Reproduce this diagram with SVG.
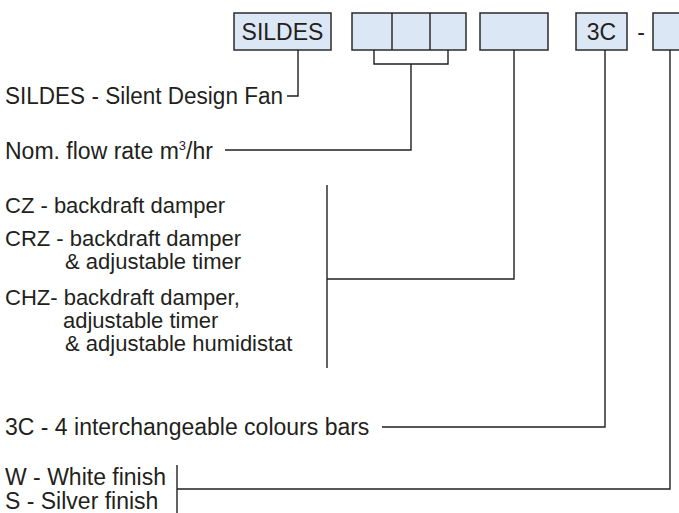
<svg xmlns="http://www.w3.org/2000/svg" width="679" height="513" viewBox="0 0 679 513">
<style>
text{font-family:"Liberation Sans",Arial,sans-serif;font-size:23px;fill:#231f20}
#l-options text{font-size:22px}
.box{fill:#dce7f5;stroke:#2b2b2b;stroke-width:1.5}
.ln{fill:none;stroke:#231f20;stroke-width:1.4}
</style>
<rect width="679" height="513" fill="#fff"/>
<g id="code">
<g id="box-sildes"><rect class="box" x="234" y="13" width="97" height="37"/><text x="282.5" y="40" text-anchor="middle">SILDES</text></g>
<g id="box-flow"><rect class="box" x="352" y="13" width="114" height="37"/><line class="ln" x1="392" y1="13" x2="392" y2="50"/><line class="ln" x1="430" y1="13" x2="430" y2="50"/></g>
<g id="box-option"><rect class="box" x="480" y="13" width="68" height="37"/></g>
<g id="box-3c"><rect class="box" x="576" y="13" width="51" height="37"/><text x="601.5" y="40" text-anchor="middle">3C</text></g>
<text x="641" y="40" text-anchor="middle">-</text>
<g id="box-finish"><rect class="box" x="653" y="13" width="40" height="37"/></g>
</g>
<g id="labels">
<g id="l-sildes"><text x="5" y="104" textLength="278" lengthAdjust="spacingAndGlyphs">SILDES - Silent Design Fan</text></g>
<g id="l-flow"><text x="5" y="159">Nom. flow rate m<tspan font-size="13" dy="-9">3</tspan><tspan dy="9">/hr</tspan></text></g>
<g id="l-options">
<text x="5" y="213">CZ - backdraft damper</text>
<text x="5" y="246">CRZ - backdraft damper</text>
<text x="65" y="269">&amp; adjustable timer</text>
<text x="5" y="305">CHZ- backdraft damper,</text>
<text x="63" y="328">adjustable timer</text>
<text x="65" y="351">&amp; adjustable humidistat</text>
</g>
<g id="l-3c"><text x="5" y="435">3C - 4 interchangeable colours bars</text></g>
<g id="l-finish"><text x="5" y="485">W - White finish</text><text x="5" y="509">S - Silver finish</text></g>
</g>
<g id="connectors">
<polyline class="ln" points="298,50 298,96 287,96"/>
<polyline class="ln" points="374,50 374,64 448,64 448,50"/>
<polyline class="ln" points="411,64 411,150 225,150"/>
<line class="ln" x1="327" y1="185" x2="327" y2="368"/>
<polyline class="ln" points="514,50 514,279 327,279"/>
<polyline class="ln" points="605,50 605,427 382,427"/>
<line class="ln" x1="177" y1="465" x2="177" y2="513"/>
<polyline class="ln" points="670,50 670,489 177,489"/>
</g>
</svg>
